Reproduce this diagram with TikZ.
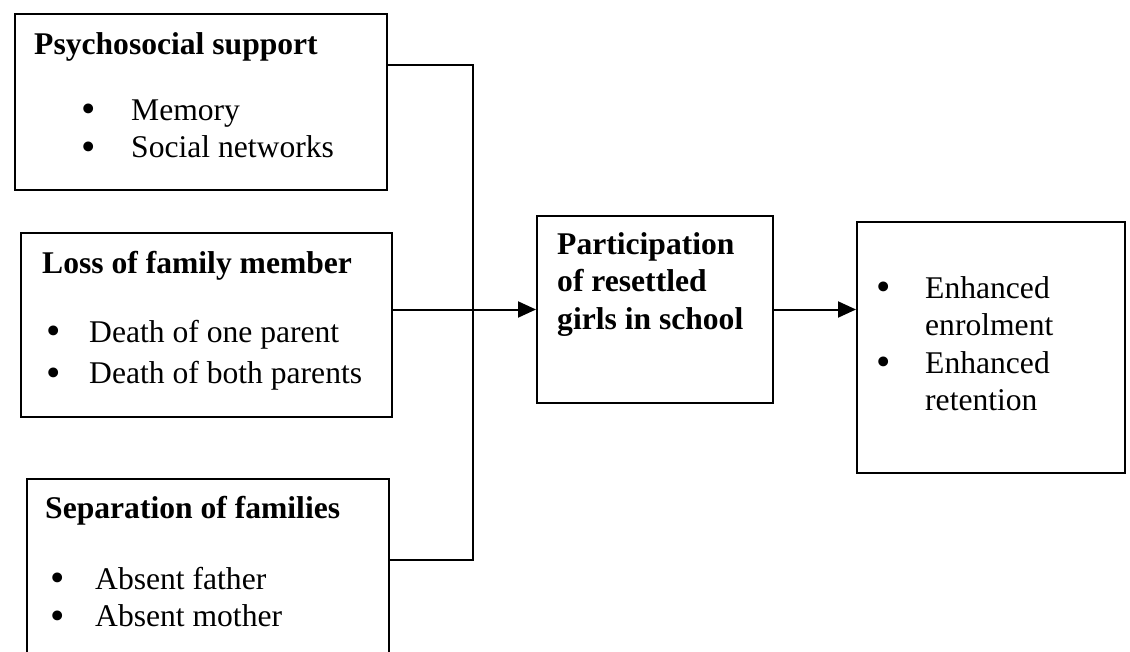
\documentclass[tikz,border=0pt]{standalone}
\usepackage{fontspec}
\setmainfont{Liberation Serif}
\usetikzlibrary{arrows.meta}
\newcommand{\bul}{\raisebox{-2.5pt}{\scalebox{1.3}{\textbullet}}}

\begin{document}
\begin{tikzpicture}[x=1pt, y=-1pt,
    box/.style={draw, line width=2pt, inner sep=0, anchor=north west},
    txt/.style={inner sep=0, anchor=base west, font=\fontsize{31.6}{37.5}\selectfont},
    title/.style={txt, font=\fontsize{31.6}{37.5}\selectfont\bfseries},
    link/.style={line width=2pt},
    arr/.style={line width=2pt, -{Triangle[length=18pt, width=16pt]}}]
\useasboundingbox (0,0) rectangle (1130,651);
\clip (0,0) rectangle (1130,651);

                \node[box, minimum width=372pt, minimum height=176pt](psy) at (14,13) {};
                \node[box, minimum width=371pt, minimum height=184pt](loss) at (20,232) {};
                \node[box, minimum width=362pt, minimum height=210pt](sep) at (26,478) {};
                \node[box, minimum width=236pt, minimum height=187pt](mid) at (536,215) {};
                \node[box, minimum width=268pt, minimum height=251pt](res) at (856,221) {};

                \node[title](psyTitle) at (34,54) {Psychosocial support};
                \node[txt](psyList) at (81,120) {\begin{tabular}[t]{@{}p{50pt}@{}l@{}}\bul & Memory\\ \bul & Social networks\end{tabular}};
                \node[title](lossTitle) at (42,273) {Loss of family member};
                \node[txt](lossList) at (46,342) {\begin{tabular}[t]{@{}p{43pt}@{}l@{}}\bul & Death of one parent\\[4pt] \bul & Death of both parents\end{tabular}};
                \node[title](sepTitle) at (45,518) {Separation of families};
                \node[txt](sepList) at (50,589) {\begin{tabular}[t]{@{}p{45pt}@{}l@{}}\bul & Absent father\\ \bul & Absent mother\end{tabular}};
                \node[title](midText) at (557,254) {\begin{tabular}[t]{@{}l@{}}Participation\\ of resettled\\ girls in school\end{tabular}};
                \node[txt](resList) at (876,298) {\begin{tabular}[t]{@{}p{49pt}@{}l@{}}\bul & Enhanced\\ & enrolment\\ \bul & Enhanced\\ & retention\end{tabular}};

                \coordinate (jTop) at (473,65);
                \coordinate (jBot) at (473,560);

                                \draw[link] (psy.east |- jTop) -- (jTop) -- (jBot) -- (sep.east |- jBot);
                                \draw[arr] (loss.east |- mid.west) -- (mid.west);
                                \draw[arr] (mid.east) -- (res.west |- mid.east);

\end{tikzpicture}
\end{document}
